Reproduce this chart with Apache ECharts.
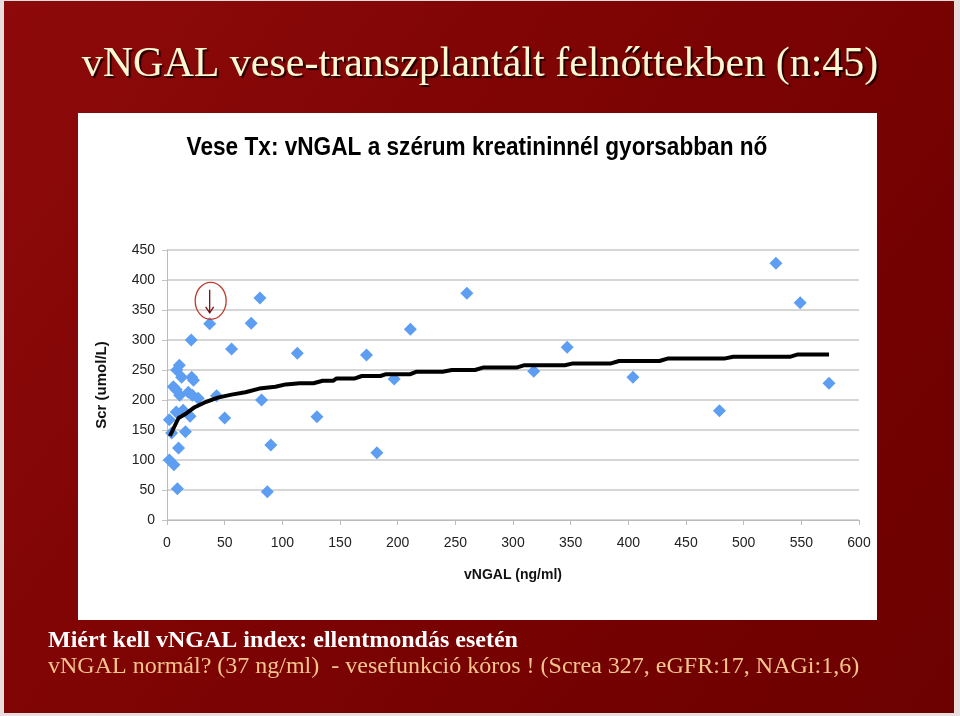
<!DOCTYPE html>
<html>
<head>
<meta charset="utf-8">
<script src="https://cdn.jsdelivr.net/npm/echarts@6/dist/echarts.min.js"></script>
<style>
html,body{margin:0;padding:0;background:#e8dede;}
#c{width:960px;height:716px;}
</style>
</head>
<body>
<div id="c"></div>
<script>
// ---- data ----
const slideTitle = 'vNGAL vese-transzplantált felnőttekben (n:45)';
const chartTitle = 'Vese Tx: vNGAL a szérum kreatininnél gyorsabban nő';
const xAxisName = 'vNGAL (ng/ml)';
const yAxisName = 'Scr (umol/L)';
const noteLine1 = 'Miért kell vNGAL index: ellentmondás esetén';
const noteLine2 = 'vNGAL normál? (37 ng/ml)  - vesefunkció kóros ! (Screa 327, eGFR:17, NAGi:1,6)';

// patient points: vNGAL (ng/ml)
const ngalValues = [2, 6, 9, 10, 4, 2, 16, 8, 14, 20, 5.5, 8, 11, 18.5, 22, 27, 10.7, 8.4, 12.7, 21.4, 23, 21, 37, 43, 50, 56, 73, 80.6, 82, 87, 90, 113, 130, 173, 182, 197, 211, 260, 318, 347, 404, 479, 528, 549, 574];
// serum creatinine (umol/L)
const scrValues = [100, 92, 52, 120, 145, 167, 147, 180, 183, 173, 222, 217, 208, 213, 208, 203, 258, 250, 238, 238, 233, 300, 327, 207, 170, 285, 328, 370, 200, 47, 125, 278, 172, 275, 112, 235, 318, 378, 248, 288, 238, 182, 428, 362, 228];

// trend line vertices
const trendX = [2.5, 10, 17, 24, 34, 44, 56, 68, 80, 94, 103, 115, 127, 135, 144, 147, 163, 169, 185, 190, 211, 216, 239, 247, 267, 274, 303, 310, 345, 352, 385, 392, 427, 434, 483, 491, 540, 547, 574];
const trendY = [140, 170, 178, 188, 197, 204, 209, 213, 219, 222, 226, 228, 228, 232, 232, 236, 236, 240, 240, 243, 243, 247, 247, 250, 250, 254, 254, 258, 258, 261, 261, 265, 265, 269, 269, 272, 272, 276, 276];

// annotated patient (arrow marker)
const markedPoint = [37, 327];

const xMin = 0, xMax = 600, xStep = 50;
const yMin = 0, yMax = 450, yStep = 50;

const chart = echarts.init(document.getElementById('c'), null, {renderer: 'canvas'});

const scatterData = ngalValues.map((v, i) => [v, scrValues[i]]);
const lineData = trendX.map((v, i) => [v, trendY[i]]);

const baseGraphics = [
  {type: 'rect', z: -20, silent: true, shape: {x: 4, y: 1, width: 950, height: 712},
   style: {fill: new echarts.graphic.LinearGradient(0, 0, 1, 1, [
     {offset: 0, color: '#8e0a0a'}, {offset: 0.5, color: '#7c0303'}, {offset: 1, color: '#6c0000'}])}},
  {type: 'rect', z: -19, silent: true, shape: {x: 78, y: 113, width: 799, height: 507},
   style: {fill: '#ffffff'}},
  {type: 'text', z: 10, left: 'center', top: 44,
   style: {text: slideTitle, fill: '#fff8d2', font: '42px "Liberation Serif", serif',
     textShadowColor: 'rgba(20,0,0,0.9)', textShadowOffsetX: 2, textShadowOffsetY: 2, textShadowBlur: 1}},
  {type: 'text', z: 10, x: 477, y: 148, scaleX: 0.87,
   style: {text: chartTitle, fill: '#000', align: 'center', verticalAlign: 'middle',
     font: 'bold 26px "Liberation Sans", Arial, sans-serif'}},
  {type: 'text', z: 10, left: 48, top: 629,
   style: {text: noteLine1, fill: '#ffffff', font: 'bold 24px "Liberation Serif", serif'}},
  {type: 'text', z: 10, left: 48, top: 655,
   style: {text: noteLine2, fill: '#f6c58e', font: '24px "Liberation Serif", serif'}}
];

chart.setOption({
  animation: false,
  backgroundColor: '#e8dede',
  grid: {left: 167, right: 101, top: 250, bottom: 196},
  xAxis: {
    type: 'value', min: xMin, max: xMax, interval: xStep,
    name: xAxisName, nameLocation: 'middle', nameGap: 48,
    nameTextStyle: {fontFamily: '"Liberation Sans", Arial, sans-serif', fontWeight: 'bold', fontSize: 14, color: '#111'},
    axisLine: {show: true, lineStyle: {color: '#bbbbbb', width: 1}},
    axisTick: {show: true, length: 5, lineStyle: {color: '#bbbbbb'}},
    axisLabel: {margin: 16, fontFamily: '"Liberation Sans", Arial, sans-serif', fontSize: 14, color: '#222'},
    splitLine: {show: false}
  },
  yAxis: {
    type: 'value', min: yMin, max: yMax, interval: yStep,
    name: yAxisName, nameLocation: 'middle', nameGap: 58, nameRotate: 90,
    nameTextStyle: {fontFamily: '"Liberation Sans", Arial, sans-serif', fontWeight: 'bold', fontSize: 15, color: '#111'},
    axisLine: {show: true, lineStyle: {color: '#bbbbbb', width: 1}},
    axisTick: {show: true, length: 5, lineStyle: {color: '#c4c4c4'}},
    axisLabel: {margin: 12, fontFamily: '"Liberation Sans", Arial, sans-serif', fontSize: 14, color: '#222'},
    splitLine: {show: true, lineStyle: {color: '#c8c8c8', width: 1.5}}
  },
  graphic: baseGraphics,
  series: [
    {
      type: 'scatter', data: scatterData, symbol: 'diamond', symbolSize: 13, z: 3,
      itemStyle: {color: '#5d9ef2', opacity: 1}
    },
    {
      type: 'line', data: lineData, showSymbol: false, symbol: 'none', z: 4,
      lineStyle: {color: '#000000', width: 4}
    }
  ]
});

// annotation around the marked patient, positioned through the chart's scales
const p = chart.convertToPixel({gridIndex: 0}, markedPoint);
const cx = p[0] + 1, topY = p[1];
chart.setOption({
  graphic: baseGraphics.concat([
    {type: 'ellipse', z: 20, shape: {cx: cx, cy: topY - 23, rx: 15.5, ry: 18.5},
     style: {fill: 'rgba(0,0,0,0)', stroke: '#c0392b', lineWidth: 1.3}},
    {type: 'line', z: 21, shape: {x1: cx - 1, y1: topY - 34, x2: cx - 1, y2: topY - 11},
     style: {stroke: '#7a1010', lineWidth: 1.3}},
    {type: 'polyline', z: 21, shape: {points: [[cx - 5, topY - 17], [cx - 1, topY - 11], [cx + 3, topY - 17]]},
     style: {stroke: '#7a1010', lineWidth: 1.3, fill: 'none'}}
  ])
}, {replaceMerge: ['graphic']});
</script>
</body>
</html>
